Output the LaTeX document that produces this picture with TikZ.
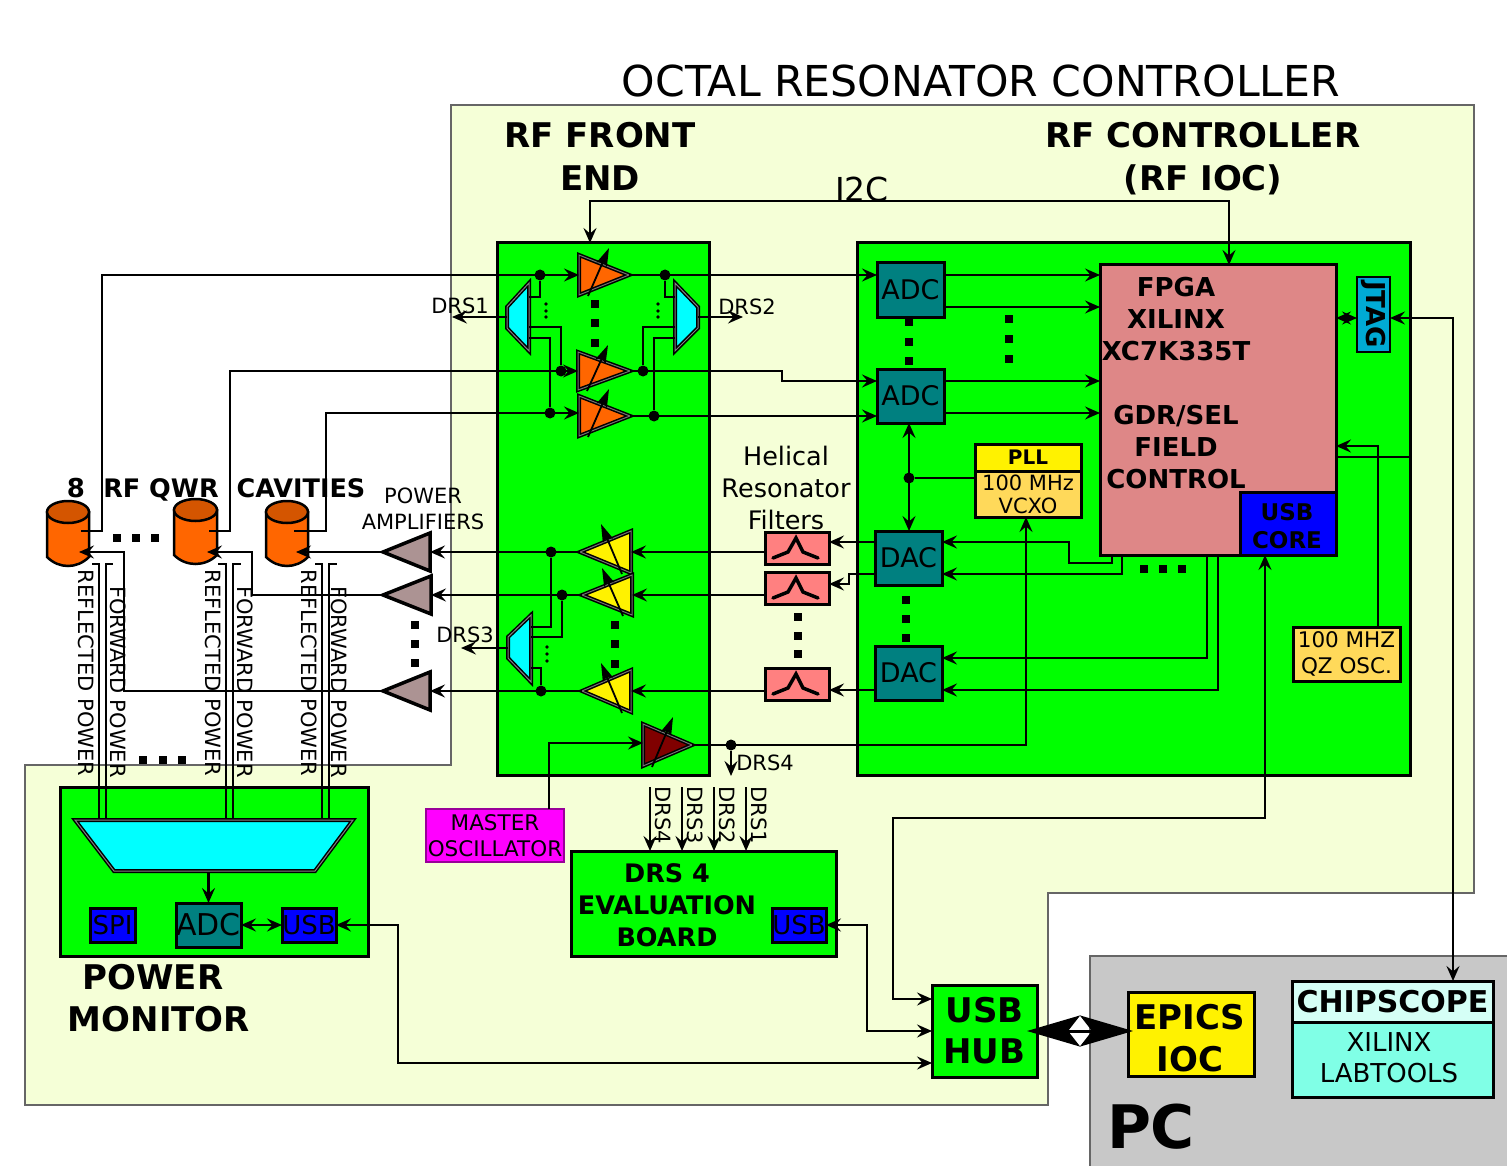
\documentclass[tikz,border=0pt]{standalone}
\usepackage{fontspec}
\setmainfont{DejaVu Sans}
\usetikzlibrary{arrows.meta}
\definecolor{bgy}{HTML}{F5FFD7}
\definecolor{pcg}{HTML}{C8C8C8}
\definecolor{grn}{HTML}{00FF00}
\definecolor{tl}{HTML}{008080}
\definecolor{fpga}{HTML}{DE8787}
\definecolor{blu}{HTML}{0000FF}
\definecolor{jt}{HTML}{00AAD4}
\definecolor{amb}{HTML}{FFD95A}
\definecolor{flt}{HTML}{FF8080}
\definecolor{org}{HTML}{FF6600}
\definecolor{orgd}{HTML}{D45500}
\definecolor{pa}{HTML}{AC9393}
\definecolor{cy}{HTML}{00FFFF}
\definecolor{mag}{HTML}{FF00FF}
\definecolor{drd}{HTML}{800000}
\definecolor{cs1}{HTML}{D5FFF6}
\definecolor{cs2}{HTML}{80FFE6}
\newcommand{\fs}[2][0]{\fontsize{#2}{\ifnum#1=0 #2\else #1\fi}\selectfont}
\tikzset{
  Ar/.tip={Stealth[length=15pt,width=13pt,inset=5.5pt]},
  wire/.style={draw=black,line width=2.4pt,line join=miter},
  thinw/.style={draw=black,line width=1.8pt},
  arr/.style={wire,-Ar},
  darr/.style={wire,Ar-Ar},
  box/.style={draw=black,line width=3pt,outer sep=0pt,inner sep=0pt,align=center,anchor=north west},
  txt/.style={inner sep=0pt,outer sep=0pt,align=center,text=black},
  jn/.style={circle,fill=black,minimum size=11pt,inner sep=0pt},
  sq/.style={rectangle,fill=black,minimum size=8pt,inner sep=0pt},
  sd/.style={circle,fill=black,minimum size=3.6pt,inner sep=0pt},
}
% style, name, x1,y1,x2,y2, text
\newcommand{\rbox}[7]{%
  \pgfmathsetmacro{\bw}{#5-#3}\pgfmathsetmacro{\bh}{#6-#4}%
  \node[box,#1,minimum width=\bw pt,minimum height=\bh pt] (#2) at (#3,#4) {#7};}
% name colour tipx basex top bottom : amplifier with gain arrow
\newcommand{\vamp}[6]{%
  \pgfmathsetmacro{\ym}{(#5+#6)/2}%
  \pgfmathsetmacro{\sg}{(#4<#3)?1:-1}%
  \coordinate (#1-tip) at (#3,\ym);
  \coordinate (#1-base) at (#4,\ym);
  \draw[line width=4pt,line join=miter,draw=black,fill=#2] (#4,#5) -- (#3,\ym) -- (#4,#6) -- cycle;
  \draw[line width=1pt,draw=black!55] (#4,#5) -- (#3,\ym) -- (#4,#6) -- cycle;
  \pgfmathsetmacro{\sx}{#4+\sg*9}\pgfmathsetmacro{\ex}{#4+\sg*30}%
  \pgfmathsetmacro{\sy}{#6+1}\pgfmathsetmacro{\ey}{#5-7}%
  \draw[line width=1.8pt,draw=black,-{Stealth[length=18pt,width=11pt,inset=3pt]}] (\sx,\sy) -- (\ex,\ey);}
% colour pts
\newcommand{\trap}[5]{%
  \draw[line width=4pt,line join=miter,draw=black,fill=#1] #2 -- #3 -- #4 -- #5 -- cycle;
  \draw[line width=1pt,draw=black!50] #2 -- #3 -- #4 -- #5 -- cycle;}
% name tip base top bottom
\newcommand{\patri}[5]{%
  \pgfmathsetmacro{\ym}{(#4+#5)/2}%
  \coordinate (#1-tip) at (#2,\ym);
  \coordinate (#1-base) at (#3,\ym);
  \draw[line width=3.5pt,line join=miter,draw=black,fill=pa] (#3,#4) -- (#2,\ym) -- (#3,#5) -- cycle;}
% name x1 x2 top bottom
\newcommand{\cav}[5]{%
  \pgfmathsetmacro{\xc}{(#2+#3)/2}\pgfmathsetmacro{\rx}{(#3-#2)/2}%
  \pgfmathsetmacro{\ye}{#4+11}\pgfmathsetmacro{\yb}{#5-9}%
  \pgfmathsetmacro{\ca}{#2+12}\pgfmathsetmacro{\cb}{#3-12}%
  \node[inner sep=0pt,minimum size=1pt] (#1) at (\xc,\ye) {};
  \draw[line width=2.5pt,fill=org] (#2,\ye) -- (#2,\yb) .. controls (\ca,#5+3) and (\cb,#5+3) .. (#3,\yb) -- (#3,\ye) -- cycle;
  \draw[line width=2.5pt,fill=orgd] (\xc,\ye) ellipse [x radius=\rx pt,y radius=11pt];}
% filter icon
\newcommand{\ficon}[2]{%
  \draw[line width=3.5pt,line cap=round] (#1+8,#2+26) -- (#1+23,#2+20) -- (#1+31,#2+6) -- (#1+38,#2+20) -- (#1+53,#2+26);}
\begin{document}
\begin{tikzpicture}[x=1pt,y=-1pt]
\useasboundingbox (0,0) rectangle (1507,1166);
\fill[white] (0,0) rectangle (1507,1166);
% backgrounds
\draw[draw=black!60,line width=1.5pt,fill=bgy] (451,105) -- (1474,105) -- (1474,893) -- (1048,893) -- (1048,1105) -- (25,1105) -- (25,765) -- (451,765) -- cycle;
\draw[draw=black!60,line width=1.5pt,fill=pcg] (1510,956) -- (1090,956) -- (1090,1170) -- (1510,1170);
\rbox{fill=grn}{rffe}{497}{243}{709}{775}{}
\rbox{fill=grn}{rfc}{857}{243}{1410}{775}{}
\rbox{fill=grn}{pm}{60}{787}{368}{956}{}
\rbox{fill=grn}{drsb}{571}{851}{836}{956}{}
% titles
\node[txt,font={\fs{42.6}}] (tOct) at (981,81) {OCTAL RESONATOR CONTROLLER};
\node[txt,font={\fs[43]{34}\bfseries}] (tFe) at (600,156) {RF FRONT\\END};
\node[txt,font={\fs[43]{34}\bfseries}] (tCt) at (1203,159) {RF CONTROLLER\\(RF IOC)};
\node[txt,font={\fs{33}}] (tI2c) at (862,189) {I2C};
\node[txt,font={\fs{26}\bfseries}] (t8) at (76,488) {8};
\node[txt,font={\fs{25.5}\bfseries}] (tQwr) at (161,490) {RF QWR};
\node[txt,font={\fs{25.5}\bfseries}] (tCav) at (301,488) {CAVITIES};
\node[txt,font={\fs[26]{21}}] (tPa) at (423,509) {POWER\\AMPLIFIERS};
\node[txt,font={\fs[32]{25.5}}] (tHel) at (786,488) {Helical\\Resonator\\Filters};
\node[txt,font={\fs[42]{34}\bfseries}] (tPm) at (159,998) {\hspace*{-12pt}POWER\\MONITOR};
\node[txt,font={\fs{60}\bfseries}] (tPc) at (1151,1127) {PC};
\node[txt,font={\fs{21}}] (tD1) at (460,306) {DRS1};
\node[txt,font={\fs{21}}] (tD2) at (747,307) {DRS2};
\node[txt,font={\fs{21}}] (tD3) at (465,635) {DRS3};
\node[txt,font={\fs{21}}] (tD4) at (765,763) {DRS4};
\foreach \n/\x in {DRS4/663,DRS3/695,DRS2/727,DRS1/759}
  \node[txt,rotate=-90,font={\fs{21}}] (r\n) at (\x,815) {\n};
\foreach \id/\x in {a/86,b/213,c/309}
  \node[txt,rotate=-90,font={\fs{21}}] (rp\id) at (\x,673) {REFLECTED POWER};
\foreach \id/\x in {a/118,b/245,c/339}
  \node[txt,rotate=-90,font={\fs{21}}] (fp\id) at (\x,682) {FORWARD POWER};
% cavities
\cav{c1}{47}{89}{501}{566}
\cav{c2}{174}{217}{499}{564}
\cav{c3}{266}{308}{501}{566}
% amplifiers
\vamp{a1}{org}{629}{579}{255}{295}
\vamp{a2}{org}{630}{578}{352}{390}
\vamp{a3}{org}{630}{579}{396}{436}
\vamp{y1}{yellow}{580}{631}{531}{573}
\vamp{y2}{yellow}{582}{632}{575}{615}
\vamp{y3}{yellow}{582}{631}{670}{712}
\vamp{mo}{drd}{692}{643}{724}{766}
\patri{p1}{383}{430}{533}{571}
\patri{p2}{383}{431}{576}{614}
\patri{p3}{383}{430}{672}{710}
% splitters
\trap{cy}{(507,307)}{(529,283)}{(529,351)}{(507,328)}
\trap{cy}{(698,307)}{(675,283)}{(675,351)}{(698,328)}
\trap{cy}{(508,637)}{(531,615)}{(531,682)}{(508,658)}
\trap{cy}{(75,820)}{(353,820)}{(315,871)}{(114,871)}
\coordinate (s1) at (507,317); \coordinate (s2) at (698,317); \coordinate (s3) at (508,648);
\coordinate (d1) at (452,317); \coordinate (d2) at (743,317); \coordinate (d3) at (461,648);
\draw[arr] (s1) -- (d1);
\draw[arr] (s2) -- (d2);
\draw[arr] (s3) -- (d3);
% blocks
\rbox{fill=tl,font={\fs{27}}}{adc1}{877}{263}{944}{317}{\raisebox{2pt}{ADC}}
\rbox{fill=tl,font={\fs{27}}}{adc2}{877}{369}{944}{423}{ADC}
\rbox{fill=tl,font={\fs{27}}}{dac1}{875}{531}{942}{585}{\raisebox{-3pt}{DAC}}
\rbox{fill=tl,font={\fs{27}}}{dac2}{875}{646}{942}{700}{DAC}
\rbox{fill=yellow,font={\fs{20}\bfseries}}{pll}{975}{444}{1081}{471}{\raisebox{-8pt}{PLL}}
\rbox{fill=amb,font={\fs[23]{21}}}{vco}{975}{471}{1081}{517}{100 MHz\\VCXO}
\rbox{fill=fpga}{fp}{1100}{265}{1336}{555}{}
\node[txt,font={\fs[32]{26}\bfseries}] (fpT) at (1176,383) {FPGA\\XILINX\\XC7K335T\\\mbox{}\\GDR/SEL\\FIELD\\CONTROL};
\rbox{fill=blu}{core}{1240}{492}{1336}{555}{}
\node[txt,font={\fs[28]{23}\bfseries}] (coreT) at (1287,526) {USB\\CORE};
\rbox{fill=jt,line width=2.5pt,font={\fs{26}\bfseries}}{jtag}{1357}{277}{1390}{352}{\rotatebox{-90}{JTAG}}
\rbox{fill=amb,font={\fs[26]{21.5}}}{qz}{1293}{627}{1400}{681}{100 MHZ\\QZ OSC.}
\rbox{fill=flt}{f1}{765}{532}{829}{564}{}
\rbox{fill=flt}{f2}{765}{572}{829}{604}{}
\rbox{fill=flt}{f3}{765}{668}{829}{700}{}
\ficon{765}{532}\ficon{765}{572}\ficon{765}{668}
\rbox{fill=mag,draw=mag!60!black,line width=2pt,font={\fs[26]{21.5}}}{mosc}{426}{809}{564}{862}{MASTER\\OSCILLATOR}
\rbox{fill=blu,font={\fs{26}}}{spi}{90}{908}{135}{942}{SPI}
\rbox{fill=tl,font={\fs{30}}}{padc}{176}{903}{241}{947}{ADC}
\rbox{fill=blu,font={\fs{26}}}{pusb}{282}{908}{336}{942}{USB}
\rbox{fill=blu,font={\fs{26}}}{dusb}{772}{908}{826}{942}{USB}
\node[txt,font={\fs[32]{25.5}\bfseries}] (dT) at (667,905) {DRS 4\\EVALUATION\\BOARD};
\rbox{fill=grn,font={\fs[41]{34}\bfseries}}{hub}{932}{985}{1037}{1077}{USB\\HUB}
\rbox{fill=yellow}{ioc}{1128}{992}{1254}{1076}{}
\node[txt,font={\fs[42]{34}\bfseries}] (iocT) at (1190,1038) {EPICS\\IOC};
\rbox{fill=cs1,font={\fs{30}\bfseries}}{cs}{1292}{981}{1493}{1022}{CHIPSCOPE}
\rbox{fill=cs2}{xl}{1292}{1022}{1493}{1097}{}
\node[txt,font={\fs[31]{26}}] (xlT) at (1389,1058) {XILINX\\LABTOOLS};
% junctions
\node[jn] (j1) at (540,275) {};
\node[jn] (j2) at (561,371) {};
\node[jn] (j3) at (550,413) {};
\node[jn] (j4) at (665,275) {};
\node[jn] (j5) at (643,371) {};
\node[jn] (j6) at (654,416) {};
\node[jn] (j7) at (551,552) {};
\node[jn] (j8) at (562,595) {};
\node[jn] (j9) at (541,691) {};
\node[jn] (j10) at (731,745) {};
\node[jn] (j11) at (909,478) {};
% RF front-end signal lines
\coordinate (c1o) at (81,531); \coordinate (c2o) at (209,531); \coordinate (c3o) at (294,531);
\coordinate (c1i) at (79,552); \coordinate (c2i) at (207,552); \coordinate (c3i) at (296,552);
\draw[arr] (c1o) -- (102,531) -- (102,275) -- (a1-base);
\draw[arr] (c2o) -- (230,531) -- (230,371) -- (a2-base);
\draw[arr] (c3o) -- (326,531) -- (326,413) -- (579,413);
\draw[arr] (a1-tip) -- (adc1.west |- a1-tip);
\draw[arr] (a2-tip) -- (782,371) -- (782,381) -- (adc2.west |- 0,381);
\draw[arr] (a3-tip) -- (adc2.west |- a3-tip);
\draw[wire] (j1) -- (540,297) -- (529,297);
\draw[wire] (529,327) -- (561,327) -- (j2);
\draw[wire] (529,338) -- (550,338) -- (j3);
\draw[wire] (j4) -- (665,297) -- (675,297);
\draw[wire] (675,327) -- (643,327) -- (j5);
\draw[wire] (675,338) -- (654,338) -- (j6);
\draw[wire] (531,627) -- (551,627) -- (j7);
\draw[wire] (531,637) -- (562,637) -- (j8);
\draw[wire] (531,668) -- (541,668) -- (j9);
% I2C
\coordinate (i2a) at (590,243); \coordinate (i2b) at (1229,265);
\draw[darr] (i2a) -- (590,201) -- (1229,201) -- (i2b);
% filters & PAs
\draw[arr] (f1.west |- y1-base) -- (y1-base);
\draw[arr] (f2.west |- y2-base) -- (y2-base);
\draw[arr] (f3.west |- y3-base) -- (y3-base);
\draw[arr] (y1-tip) -- (p1-base);
\draw[arr] (y2-tip) -- (p2-base);
\draw[arr] (y3-tip) -- (p3-base);
\draw[arr] (dac1.west |- 0,542) -- (f1.east |- 0,542);
\draw[arr] (dac1.west |- 0,574) -- (849,574) -- (849,584) -- (f2.east |- 0,584);
\draw[arr] (dac2.west |- 0,690) -- (f3.east |- 0,690);
\draw[arr] (p1-tip) -- (c3i);
\draw[arr] (p2-tip) -- (252,595) -- (252,552) -- (c2i);
\draw[arr] (p3-tip) -- (124,691) -- (124,552) -- (c1i);
% ADC to FPGA
\draw[arr] (adc1.east |- 0,275) -- (fp.west |- 0,275);
\draw[arr] (adc1.east |- 0,307) -- (fp.west |- 0,307);
\draw[arr] (adc2.east |- 0,381) -- (fp.west |- 0,381);
\draw[arr] (adc2.east |- 0,413) -- (fp.west |- 0,413);
\draw[darr] (adc2.south -| 909,0) -- (dac1.north -| 909,0);
\draw[wire] (j11) -- (vco.west |- j11);
% FPGA to DAC
\draw[arr] (fp.south -| 1112,0) -- (1112,563) -- (1069,563) -- (1069,542) -- (dac1.east |- 0,542);
\draw[arr] (fp.south -| 1122,0) -- (1122,574) -- (dac1.east |- 0,574);
\draw[arr] (fp.south -| 1207,0) -- (1207,658) -- (dac2.east |- 0,658);
\draw[arr] (fp.south -| 1218,0) -- (1218,690) -- (dac2.east |- 0,690);
% clock
\draw[arr] (qz.north -| 1378,0) -- (1378,446) -- (fp.east |- 0,446);
\draw[thinw] (fp.east |- 0,457) -- (rfc.east |- 0,457);
\draw[darr] (fp.east |- 0,318) -- (jtag.west |- 0,318);
\draw[darr] (jtag.east |- 0,318) -- (1453,318) -- (cs.north -| 1453,0);
% master
\draw[arr] (mosc.north -| 549,0) -- (549,743) -- (mo-base |- 0,743);
\draw[arr] (mo-tip) -- (1026,745) -- (vco.south -| 1026,0);
\coordinate (drsE) at (731,776);
\draw[arr] (j10) -- (drsE);
\foreach \x in {650,682,714,746}{
  \coordinate (dt\x) at (\x,787);
  \draw[arr] (dt\x) -- (drsb.north -| \x,0);
}
% USB
\draw[darr] (hub.west |- 0,999) -- (893,999) -- (893,818) -- (1265,818) -- (core.south -| 1265,0);
\draw[darr] (dusb.east) -- (867,925) -- (867,1031) -- (hub.west);
\draw[darr] (pusb.east) -- (398,925) -- (398,1063) -- (hub.west |- 0,1063);
\coordinate (bigL) at (1027,1031); \coordinate (bigM) at (1080,1031); \coordinate (bigR) at (1133,1031);
\draw[wire,line width=3pt,-{Stealth[length=53pt,width=31pt,inset=12pt]}] (bigM) -- (bigR);
\draw[wire,line width=3pt,-{Stealth[length=53pt,width=31pt,inset=12pt]}] (bigM) -- (bigL);
% power monitor
\foreach \x/\t in {99/92,106/113,226/218,233/241,322/315,329/337}{
  \draw[thinw] (\x,818) -- (\x,564) -- (\t,564);
}
\coordinate (mxb) at (208.5,872);
\draw[arr] (mxb) -- (padc.north);
\draw[darr] (padc.east) -- (pusb.west);
% dots
\foreach \x/\y in {595/304,595/323,595/343,615/625,615/644,615/664,798/617,798/636,798/654,909/322,909/342,909/361,1009/319,1009/339,1009/359,906/600,906/619,906/638,1144/569,1163/569,1182/569,117/538,136/538,155/538,143/760,163/760,182/760,415/625,415/644,415/663}
  \node[sq] (q\x-\y) at (\x,\y) {};
\foreach \x/\y in {546/304,546/311,546/317,658/304,658/311,658/317,547/647,547/654,547/661}
  \node[sd] (e\x-\y) at (\x,\y) {};
\end{tikzpicture}
\end{document}
